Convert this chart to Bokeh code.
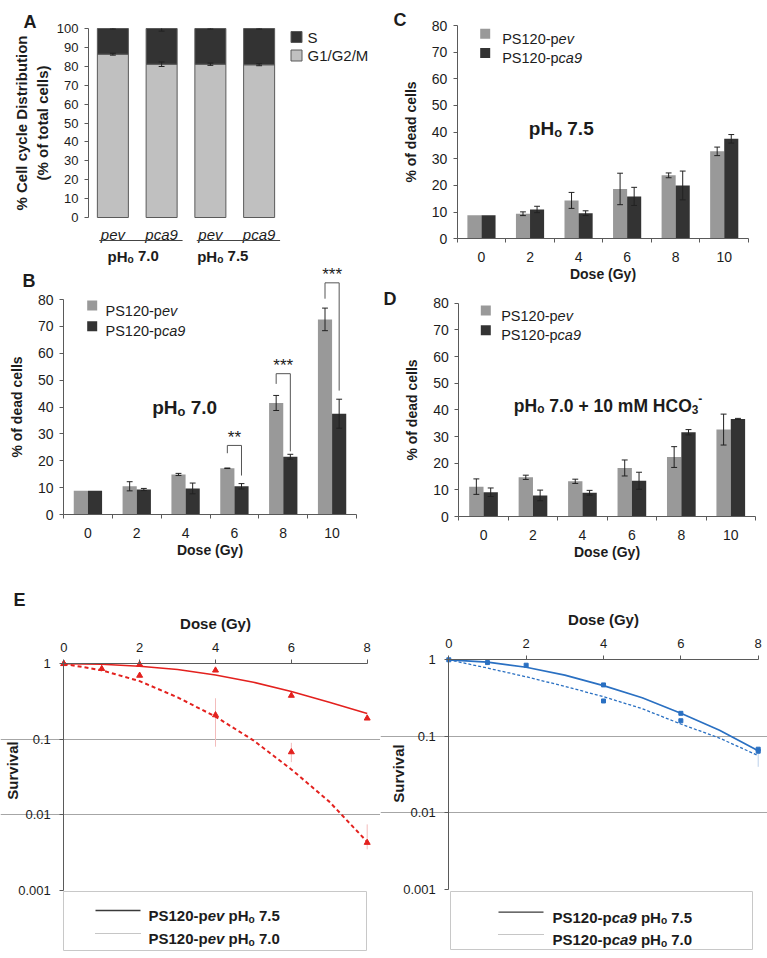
import math
from bokeh.plotting import figure
from bokeh.models import Range1d, FixedTicker, Label, LinearAxis, LogAxis, Grid
from bokeh.layouts import row, column
from bokeh.embed import file_html
from bokeh.resources import INLINE
from bokeh.core.properties import value

FONT = "Liberation Sans"
TXT = "#1c1c1c"
AXC = "#5a5a5a"
G1_COL = "#c0c0c0"
S_COL = "#333333"
PEV_COL = "#999999"
CA9_COL = "#333333"
RED = "#e3211e"
BLUE = "#2a70c2"

# ---------------- Panel A data ----------------
a_cells = ["pev", "pca9", "pev", "pca9"]
a_groups = ["7.0", "7.5"]
a_g1 = [86.4, 81.1, 81.1, 80.8]
a_s = [13.6, 18.9, 18.9, 19.2]
a_g1_err = [0.5, 1.2, 0.6, 0.5]
a_s_err = [0.3, 1.4, 0.3, 0.3]

# ---------------- Panels B-D data ----------------
dose_labels = ["0", "2", "4", "6", "8", "10"]
b_pev = [8.8, 10.5, 14.9, 17.2, 41.5, 72.6]
b_pev_err = [0.0, 1.7, 0.4, 0.1, 2.8, 4.2]
b_ca9 = [8.8, 9.3, 9.7, 10.5, 21.5, 37.5]
b_ca9_err = [0.0, 0.4, 2.0, 1.0, 0.9, 5.4]
sig_group = [3, 4, 5]
sig_text = ["**", "***", "***"]
sig_top = [25.7, 52.4, 86.2]
sig_left_end = [22.8, 48.6, 80.3]
sig_right_end = [14.5, 23.5, 46.1]

c_pev = [8.8, 9.4, 14.4, 18.7, 23.8, 32.8]
c_pev_err = [0.0, 0.7, 3.0, 5.9, 0.9, 1.6]
c_ca9 = [8.8, 11.0, 9.6, 15.9, 20.0, 37.5]
c_ca9_err = [0.0, 1.2, 0.9, 3.4, 5.4, 1.6]

d_pev = [11.2, 14.7, 13.2, 18.2, 22.3, 32.6]
d_pev_err = [2.9, 0.8, 0.8, 3.0, 3.9, 5.8]
d_ca9 = [9.1, 7.9, 8.9, 13.4, 31.6, 36.6]
d_ca9_err = [1.6, 2.0, 0.9, 3.2, 1.0, 0.2]

# ---------------- Panel E data ----------------
e_ticks = [0, 2, 4, 6, 8]
e_fit_dose = [0, 1, 2, 3, 4, 5, 6, 7, 8]
pev75_fit = [1.0, 0.985, 0.93, 0.84, 0.71, 0.57, 0.43, 0.31, 0.22]
pev70_fit = [1.0, 0.82, 0.59, 0.36, 0.20, 0.097, 0.040, 0.015, 0.0044]
pev75_dose = [0, 2, 4, 6, 8]
pev75_surv = [1.0, 0.98, 0.82, 0.38, 0.19]
pev70_dose = [0, 1, 2, 4, 6, 8]
pev70_surv = [1.0, 0.86, 0.70, 0.21, 0.068, 0.0043]
pev70_err_dose = [4, 6, 8]
pev70_err_lo = [0.08, 0.05, 0.0035]
pev70_err_hi = [0.35, 0.09, 0.0075]

ca975_fit = [1.0, 0.93, 0.80, 0.63, 0.46, 0.32, 0.20, 0.12, 0.065]
ca970_fit = [1.0, 0.78, 0.60, 0.45, 0.33, 0.23, 0.145, 0.095, 0.056]
ca975_dose = [0, 1, 2, 4, 6, 8]
ca975_surv = [1.0, 0.92, 0.85, 0.47, 0.20, 0.068]
ca970_dose = [4, 6, 8]
ca970_surv = [0.29, 0.16, 0.064]
ca970_err_dose = [8]
ca970_err_lo = [0.04]
ca970_err_hi = [0.07]

surv_ticks = [0.001, 0.01, 0.1, 1]
surv_labels = ["0.001", "0.01", "0.1", "1"]
surv_grid = [0.01, 0.1]

# ---------------- helpers ----------------
W_REG = {' ': 278, '%': 889, '(': 333, ')': 333, '+': 584, '-': 333, '.': 278, '/': 278,
         'A': 667, 'B': 667, 'C': 722, 'D': 722, 'G': 778, 'H': 722, 'M': 833, 'O': 778,
         'P': 667, 'S': 667, 'a': 556, 'c': 500, 'e': 556, 'p': 556, 'v': 500, 'o': 556}
W_BOLD = {' ': 278, '-': 333, '.': 278, '+': 584, 'C': 722, 'H': 722, 'M': 833, 'O': 778,
          'P': 667, 'S': 667, 'a': 556, 'c': 556, 'e': 556, 'm': 889, 'o': 611, 'p': 611, 'v': 556}


def twidth(s, size, bold):
    tbl = W_BOLD if bold else W_REG
    return sum(tbl.get(ch, 556) for ch in s) * size / 1000.0


def rich(p, x, y, pieces, size, bold=False, color=TXT):
    off = 0.0
    for txt, ital, kind in pieces:
        fs = size if kind == "n" else round(size * 0.68, 1)
        if kind == "n":
            dy = 0.0
        elif kind == "sub":
            dy = -0.22 * size
        else:
            dy = 0.40 * size
        stripped = txt.lstrip(" ")
        off += twidth(txt[:len(txt) - len(stripped)], fs, bold)
        style = " ".join((["bold"] if bold else []) + (["italic"] if ital else [])) or "normal"
        p.add_layout(Label(x=x, y=y, x_offset=off, y_offset=dy, text=stripped,
                           text_font=FONT, text_font_size=f"{fs}px", text_font_style=style,
                           text_color=color, text_align="left", text_baseline="alphabetic"))
        off += twidth(stripped, fs, bold)


class Map:
    """page pixel -> data mapping for a figure whose frame fills its whole canvas"""
    def __init__(self, cx, cy, w, h, pxa, xa, pxb, xb, pya, ya, pyb, yb, logy=False):
        self.logy = logy
        self.pxa, self.xa = pxa, xa
        self.sx = (xb - xa) / (pxb - pxa)
        fa = math.log10(ya) if logy else ya
        fb = math.log10(yb) if logy else yb
        self.pya, self.fa = pya, fa
        self.sy = (fb - fa) / (pyb - pya)
        self.w, self.h = w, h
        self.xr = (self.x(cx), self.x(cx + w))
        self.yr = (self.y(cy + h), self.y(cy))

    def x(self, px):
        return self.xa + (px - self.pxa) * self.sx

    def y(self, py):
        f = self.fa + (py - self.pya) * self.sy
        return 10 ** f if self.logy else f


def make_fig(m, logy=False):
    kw = {"y_axis_type": "log"} if logy else {}
    p = figure(width=m.w, height=m.h, x_range=Range1d(*m.xr), y_range=Range1d(*m.yr),
               x_axis_location=None, y_axis_location=None,
               min_border_left=0, min_border_right=0, min_border_top=0, min_border_bottom=0,
               output_backend="svg", toolbar_location=None, **kw)
    p.outline_line_color = None
    p.background_fill_color = "white"
    p.border_fill_color = "white"
    p.grid.visible = False
    return p


def style_axis(ax, size):
    ax.axis_line_color = AXC
    ax.major_tick_line_color = AXC
    ax.minor_tick_line_color = None
    ax.major_tick_in = 0
    ax.major_tick_out = 4
    ax.major_label_text_font = FONT
    ax.major_label_text_font_size = f"{size}px"
    ax.major_label_text_color = TXT
    ax.axis_label_text_font = FONT
    ax.axis_label_text_font_style = "bold"
    ax.axis_label_text_color = TXT


def errbars(p, xs, vals, errs, cap, color="#222222", lw=1, up=True, down=True):
    x, lo, hi = [], [], []
    for xi, v, e in zip(xs, vals, errs):
        if e > 0:
            x.append(xi)
            lo.append(v - e if down else v)
            hi.append(v + e if up else v)
    p.segment(x0=x, y0=lo, x1=x, y1=hi, line_color=color, line_width=lw)
    if down:
        p.segment(x0=[a - cap for a in x], y0=lo, x1=[a + cap for a in x], y1=lo, line_color=color, line_width=lw)
    if up:
        p.segment(x0=[a - cap for a in x], y0=hi, x1=[a + cap for a in x], y1=hi, line_color=color, line_width=lw)


def letter(p, m, px, py, txt):
    p.add_layout(Label(x=m.x(px), y=m.y(py), text=txt, text_font=FONT, text_font_size="18px",
                       text_font_style="bold", text_color=TXT, text_baseline="alphabetic"))


# ---------------- Panel A ----------------
mA = Map(0, 0, 380, 266, 88, 0, 136.75, 1, 217, 0, 28, 100)
pA = make_fig(mA)
a_x = [i + 0.5 for i in range(len(a_cells))]
a_top = [g + s for g, s in zip(a_g1, a_s)]
pA.vbar(x=a_x, width=0.636, bottom=0, top=a_g1, fill_color=G1_COL, line_color=AXC, line_width=1)
pA.vbar(x=a_x, width=0.636, bottom=a_g1, top=a_top, fill_color=S_COL, line_color=AXC, line_width=1)
errbars(pA, a_x, a_g1, a_g1_err, 0.06)
errbars(pA, a_x, a_top, a_s_err, 0.06, up=False)
yA = LinearAxis(fixed_location=0, bounds=(0, 100), ticker=FixedTicker(ticks=list(range(0, 101, 10))))
style_axis(yA, 13)
yA.major_label_standoff = 6
yA.axis_label = "% Cell cycle Distribution\n(% of total cells)"
yA.axis_label_text_font_size = "15px"
yA.axis_label_standoff = 3
pA.add_layout(yA, "left")
pA.text(x=a_x, y=[mA.y(233.5)] * 4, text=a_cells, text_font=value(FONT), text_font_size="15px",
        text_font_style="italic", text_color=TXT, text_align="center", text_baseline="alphabetic")
pA.segment(x0=[a_x[0] - 0.28, a_x[2] - 0.28], x1=[a_x[1] + 0.43, a_x[3] + 0.43],
           y0=[mA.y(240)] * 2, y1=[mA.y(240)] * 2, line_color="#444444", line_width=1)
for gx, g in zip([107, 196.7], a_groups):
    rich(pA, mA.x(gx), mA.y(255.5), [("pH", False, "n"), ("o", False, "sub"), (" " + g, False, "n")], 15, bold=True)
pA.scatter(x=[mA.x(296)] * 2, y=[mA.y(36.5), mA.y(55)], marker="square", size=11,
           fill_color=[S_COL, G1_COL], line_color=AXC)
pA.text(x=[mA.x(307)] * 2, y=[mA.y(36.5), mA.y(55)], text=["S", "G1/G2/M"], text_font=value(FONT),
        text_font_size="15px", text_color=TXT, text_baseline="middle", text_align="left")
letter(pA, mA, 23, 21, "A")


# ---------------- Panels B, C, D ----------------
def bar_panel(m, pev, pev_err, ca9, ca9_err):
    p = make_fig(m)
    xp = [i + 0.5 - 0.145 for i in range(len(pev))]
    xc = [i + 0.5 + 0.145 for i in range(len(ca9))]
    p.vbar(x=xp, width=0.29, bottom=0, top=pev, fill_color=PEV_COL, line_color=None)
    p.vbar(x=xc, width=0.29, bottom=0, top=ca9, fill_color=CA9_COL, line_color=None)
    errbars(p, xp, pev, pev_err, 0.06)
    errbars(p, xc, ca9, ca9_err, 0.06)
    xax = LinearAxis(fixed_location=0, bounds=(0, 6),
                     ticker=FixedTicker(ticks=[i + 0.5 for i in range(6)], minor_ticks=list(range(7))))
    style_axis(xax, 14)
    xax.major_label_overrides = {i + 0.5: lab for i, lab in enumerate(dose_labels)}
    xax.major_tick_line_color = None
    xax.minor_tick_line_color = AXC
    xax.minor_tick_in = 0
    xax.minor_tick_out = 4
    xax.major_label_standoff = 9
    xax.axis_label = "Dose (Gy)"
    xax.axis_label_text_font_size = "14px"
    xax.axis_label_standoff = 1
    p.add_layout(xax, "below")
    yax = LinearAxis(fixed_location=0, bounds=(0, 80), ticker=FixedTicker(ticks=list(range(0, 81, 10))))
    style_axis(yax, 14)
    yax.major_label_standoff = 6
    yax.axis_label = "% of dead cells"
    yax.axis_label_text_font_size = "14px"
    yax.axis_label_standoff = 10
    p.add_layout(yax, "left")
    return p


def bar_legend(p, m, sqx, sy1, sy2, tx):
    p.scatter(x=[m.x(sqx)] * 2, y=[m.y(sy1), m.y(sy2)], marker="square", size=10,
              fill_color=[PEV_COL, CA9_COL], line_color=None)
    rich(p, m.x(tx), m.y(sy1 + 5.2), [("PS120-p", False, "n"), ("ev", True, "n")], 14.5)
    rich(p, m.x(tx), m.y(sy2 + 5.2), [("PS120-p", False, "n"), ("ca9", True, "n")], 14.5)


mB = Map(0, 266, 380, 304, 63, 0, 356, 6, 514, 0, 299, 80)
pB = bar_panel(mB, b_pev, b_pev_err, b_ca9, b_ca9_err)
bl = [g + 0.5 - 0.145 for g in sig_group]
br = [g + 0.5 + 0.145 for g in sig_group]
pB.segment(x0=bl, y0=sig_left_end, x1=bl, y1=sig_top, line_color="#555555", line_width=1)
pB.segment(x0=bl, y0=sig_top, x1=br, y1=sig_top, line_color="#555555", line_width=1)
pB.segment(x0=br, y0=sig_top, x1=br, y1=sig_right_end, line_color="#555555", line_width=1)
pB.text(x=[g + 0.5 for g in sig_group], y=[t + 3.0 for t in sig_top], text=sig_text,
        text_font=value(FONT), text_font_size="17px", text_color=TXT, text_align="center",
        text_baseline="middle")
bar_legend(pB, mB, 91.7, 305, 325.7, 105)
rich(pB, mB.x(151.7), mB.y(406.7), [("pH", False, "n"), ("o", False, "sub"), (" 7.0", False, "n")], 19, bold=True)
letter(pB, mB, 22, 280, "B")

mC = Map(380, 0, 387, 283, 456.7, 0, 748, 6, 238.3, 0, 25, 80)
pC = bar_panel(mC, c_pev, c_pev_err, c_ca9, c_ca9_err)
bar_legend(pC, mC, 484.7, 33.3, 52.5, 501.7)
rich(pC, mC.x(528.3), mC.y(128.3), [("pH", False, "n"), ("o", False, "sub"), (" 7.5", False, "n")], 19, bold=True)
letter(pC, mC, 393, 19, "C")

mD = Map(380, 283, 387, 287, 458.3, 0, 755, 6, 516, 0, 302.7, 80)
pD = bar_panel(mD, d_pev, d_pev_err, d_ca9, d_ca9_err)
bar_legend(pD, mD, 485.3, 310, 329.7, 500.7)
rich(pD, mD.x(513.3), mD.y(405), [("pH", False, "n"), ("o", False, "sub"), (" 7.0 + 10 mM HCO", False, "n"),
                                   ("3", False, "sub"), ("-", False, "sup")], 17.5, bold=True)
letter(pD, mD, 383, 298, "D")


# ---------------- Panel E ----------------
def surv_panel(m):
    p = make_fig(m, logy=True)
    xax = LinearAxis(fixed_location=1, bounds=(0, 8), ticker=FixedTicker(ticks=e_ticks))
    style_axis(xax, 13)
    xax.major_label_standoff = 8
    xax.axis_label = "Dose (Gy)"
    xax.axis_label_text_font_size = "15px"
    xax.axis_label_standoff = 8
    p.add_layout(xax, "above")
    yax = LogAxis(fixed_location=0, bounds=(0.001, 1), ticker=FixedTicker(ticks=surv_ticks))
    style_axis(yax, 13)
    yax.major_label_overrides = {t: s for t, s in zip(surv_ticks, surv_labels)}
    yax.major_label_standoff = 9
    p.add_layout(yax, "left")
    p.add_layout(Grid(dimension=1, ticker=FixedTicker(ticks=surv_grid), bounds=(0, 8),
                      grid_line_color="#a6a6a6", grid_line_width=1))
    return p


def legend_entries(p, m, box, lx0, lx1, ry1, ry2, tx, ital):
    p.quad(left=[m.x(box[0])], right=[m.x(box[1])], top=[m.y(box[2])], bottom=[m.y(box[3])],
           fill_color=None, line_color="#c8c8c8", line_width=1)
    p.segment(x0=[m.x(lx0)], x1=[m.x(lx1)], y0=[m.y(ry1)], y1=[m.y(ry1)], line_color="#3a3a3a", line_width=1.3)
    p.segment(x0=[m.x(lx0)], x1=[m.x(lx1)], y0=[m.y(ry2)], y1=[m.y(ry2)], line_color="#8c8c8c",
              line_width=1, line_dash="1 1")
    for ry, ph in [(ry1, " 7.5"), (ry2, " 7.0")]:
        rich(p, m.x(tx), m.y(ry + 5.4), [("PS120-p", False, "n"), (ital, True, "n"), (" pH", False, "n"),
                                        ("o", False, "sub"), (ph, False, "n")], 15, bold=True)


def survival_label(p, m, px, py):
    p.add_layout(Label(x=m.x(px), y=m.y(py), text="Survival", angle=math.pi / 2, text_font=FONT,
                       text_font_size="15px", text_font_style="bold", text_color=TXT,
                       text_align="center", text_baseline="middle"))


mE1 = Map(0, 570, 380, 388, 63.3, 0, 366.7, 8, 663.3, 1, 890, 0.001, logy=True)
pE1 = surv_panel(mE1)
pE1.segment(x0=pev70_err_dose, x1=pev70_err_dose, y0=pev70_err_lo, y1=pev70_err_hi,
            line_color="#f3bcbc", line_width=1)
pE1.line(e_fit_dose, pev75_fit, line_color=RED, line_width=1.6)
pE1.line(e_fit_dose, pev70_fit, line_color=RED, line_width=2, line_dash="4 3")
pE1.scatter(pev75_dose, pev75_surv, marker="triangle", size=6, color=RED)
pE1.scatter(pev70_dose, pev70_surv, marker="triangle", size=6, color=RED)
survival_label(pE1, mE1, 12, 770)
letter(pE1, mE1, 13, 599, "E")
legend_entries(pE1, mE1, (63, 366, 891, 950), 95, 140, 910, 933, 148, "ev")

mE2 = Map(380, 570, 387, 388, 448.3, 0, 757.7, 8, 659.3, 1, 889, 0.001, logy=True)
pE2 = surv_panel(mE2)
pE2.segment(x0=ca970_err_dose, x1=ca970_err_dose, y0=ca970_err_lo, y1=ca970_err_hi,
            line_color="#bcd0ea", line_width=1)
pE2.line(e_fit_dose, ca975_fit, line_color=BLUE, line_width=1.7)
pE2.line(e_fit_dose, ca970_fit, line_color=BLUE, line_width=1.3, line_dash="3 2")
pE2.scatter(ca975_dose, ca975_surv, marker="square", size=4, color=BLUE)
pE2.scatter(ca970_dose, ca970_surv, marker="square", size=4, color=BLUE)
survival_label(pE2, mE2, 397.5, 773)
legend_entries(pE2, mE2, (450, 752, 891, 949), 498, 543, 911.7, 934, 552, "ca9")

layout = column(
    row(column(pA, pB), column(pC, pD)),
    row(pE1, pE2),
)

open("out.html", "w").write(file_html(layout, INLINE))
